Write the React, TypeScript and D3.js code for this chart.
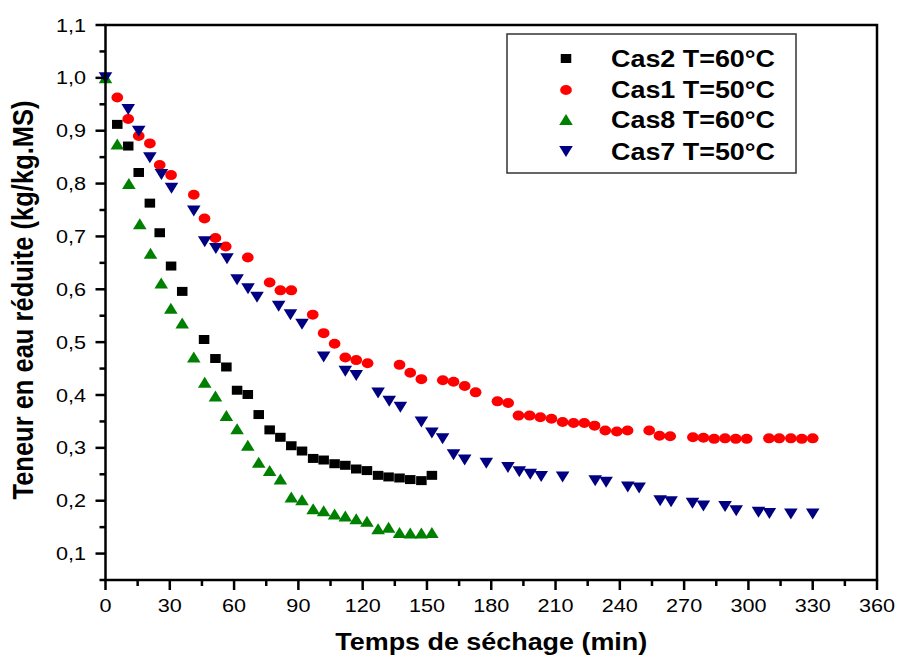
import React from "react";
import * as d3 from "d3";

// Drying curves: reduced moisture content vs drying time
const cas2Time = [5.5, 10.6, 15.5, 20.7, 25.3, 30.6, 35.8, 46.0, 51.3, 56.4, 61.4, 66.4, 71.5, 76.6, 81.6, 86.7, 91.7, 96.9, 101.8, 106.9, 111.9, 117.0, 122.0, 127.2, 132.1, 137.2, 142.2, 147.4, 152.3];
const cas2Teneur = [0.912, 0.871, 0.821, 0.763, 0.707, 0.644, 0.596, 0.505, 0.469, 0.453, 0.409, 0.401, 0.363, 0.334, 0.320, 0.304, 0.294, 0.280, 0.277, 0.270, 0.267, 0.260, 0.257, 0.248, 0.245, 0.243, 0.240, 0.238, 0.248];

const cas1Time = [5.5, 10.6, 15.5, 20.7, 25.3, 30.6, 41.2, 46.2, 51.3, 56.1, 66.4, 76.6, 81.6, 86.7, 96.7, 101.8, 106.9, 111.9, 117.0, 122.3, 137.2, 142.2, 147.4, 157.4, 162.4, 167.6, 172.7, 182.9, 187.9, 192.7, 197.9, 202.9, 208.1, 213.3, 218.4, 223.4, 228.2, 233.2, 238.6, 243.6, 253.7, 258.5, 263.5, 274.1, 279.0, 284.0, 289.1, 294.1, 299.2, 309.6, 314.4, 319.8, 324.9, 330.0];
const cas1Teneur = [0.963, 0.922, 0.890, 0.876, 0.835, 0.816, 0.779, 0.734, 0.697, 0.681, 0.660, 0.613, 0.598, 0.598, 0.552, 0.517, 0.497, 0.471, 0.466, 0.460, 0.457, 0.442, 0.430, 0.428, 0.425, 0.417, 0.405, 0.388, 0.385, 0.361, 0.361, 0.358, 0.355, 0.349, 0.347, 0.347, 0.342, 0.333, 0.331, 0.333, 0.333, 0.323, 0.322, 0.320, 0.319, 0.317, 0.318, 0.317, 0.317, 0.318, 0.318, 0.318, 0.317, 0.318];

const cas8Time = [0, 5.5, 10.9, 16.0, 21.0, 26.0, 30.5, 35.8, 41.2, 46.3, 51.3, 56.4, 61.4, 66.4, 71.5, 76.6, 81.6, 86.7, 91.7, 96.9, 101.8, 106.9, 111.9, 117.0, 122.0, 127.2, 132.1, 137.2, 142.2, 147.4, 152.3];
const cas8Teneur = [1.0, 0.875, 0.800, 0.724, 0.668, 0.612, 0.564, 0.536, 0.472, 0.424, 0.398, 0.361, 0.336, 0.305, 0.273, 0.257, 0.241, 0.207, 0.202, 0.185, 0.181, 0.175, 0.171, 0.166, 0.161, 0.147, 0.150, 0.140, 0.139, 0.139, 0.140];

const cas7Time = [0, 10.6, 15.5, 20.7, 26.1, 30.8, 41.2, 46.3, 51.5, 56.7, 61.4, 66.5, 70.7, 80.8, 86.3, 91.7, 101.8, 111.9, 117.0, 127.2, 132.4, 137.6, 147.4, 152.3, 157.3, 162.4, 167.6, 177.7, 187.8, 193.1, 198.2, 203.3, 213.3, 228.5, 233.6, 243.7, 249.0, 258.8, 263.9, 273.9, 279.0, 289.1, 294.3, 304.7, 309.8, 319.8, 330.0];
const cas7Teneur = [1.0, 0.940, 0.899, 0.849, 0.817, 0.791, 0.748, 0.690, 0.677, 0.658, 0.618, 0.601, 0.585, 0.568, 0.552, 0.534, 0.472, 0.445, 0.437, 0.404, 0.388, 0.377, 0.349, 0.328, 0.317, 0.287, 0.277, 0.271, 0.263, 0.255, 0.250, 0.246, 0.245, 0.238, 0.235, 0.226, 0.224, 0.200, 0.198, 0.195, 0.190, 0.189, 0.181, 0.178, 0.176, 0.175, 0.175];

const seriesLabels = ["Cas2 T=60°C", "Cas1 T=50°C", "Cas8 T=60°C", "Cas7 T=50°C"];
const seriesColors = ["#000000", "#ff0000", "#008000", "#000080"];
const seriesShapes = ["square", "circle", "triangleUp", "triangleDown"];

const xTickValues = d3.range(0, 361, 30);
const xMinorValues = d3.range(15, 360, 30);
const yTickValues = d3.range(1, 12).map((d) => d / 10);
const yMinorValues = d3.range(0, 11).map((d) => 0.05 + d / 10);

const xLabel = "Temps de séchage (min)";
const yLabel = "Teneur en eau réduite (kg/kg.MS)";

const W = 898;
const H = 659;
const SX = 1.17; // horizontal stretch of glyphs and markers
const FONT = "'Liberation Sans', Arial, Helvetica, sans-serif";

const x = d3.scaleLinear().domain([0, 360]).range([105.5, 877]);
const y = d3.scaleLinear().domain([0.05, 1.1]).range([580, 25]);

const fmt = (v: number) => d3.format(".1f")(v).replace(".", ",");

const shapePaths: Record<string, string> = {
  square: "M-4.5,-4.5h9v9h-9z",
  circle: "M-5,0a5,5 0 1,0 10,0a5,5 0 1,0 -10,0z",
  triangleUp: "M0,-5.5L5.8,5.5L-5.8,5.5z",
  triangleDown: "M0,5.5L5.8,-5.5L-5.8,-5.5z",
};

function Marker({ cx, cy, shape, color }: { cx: number; cy: number; shape: string; color: string }) {
  return <path d={shapePaths[shape]} fill={color} transform={`translate(${cx},${cy}) scale(${SX},1)`} />;
}

function SText({ px, py, size, anchor, bold, rotate, children }: any) {
  return (
    <g transform={`translate(${px},${py}) scale(${SX},1)${rotate ? ` rotate(${rotate})` : ""}`}>
      <text x={0} y={0} fontSize={size} fontFamily={FONT} fontWeight={bold ? "bold" : "normal"} textAnchor={anchor} fill="#000">
        {children}
      </text>
    </g>
  );
}

export default function App() {
  const series = [
    { t: cas2Time, v: cas2Teneur },
    { t: cas1Time, v: cas1Teneur },
    { t: cas8Time, v: cas8Teneur },
    { t: cas7Time, v: cas7Teneur },
  ];
  const [x0, x1] = x.range();
  const [yb, yt] = y.range();
  const legendRows = [58.5, 90, 119.5, 151.5];

  return (
    <svg width={W} height={H} style={{ position: "absolute", left: 0, top: 0, display: "block", background: "#fff" }}>
      <rect x={0} y={0} width={W} height={H} fill="#fff" />

      {/* data markers */}
      {series.map((s, i) =>
        s.t.map((t, j) => (
          <Marker key={`${i}-${j}`} cx={x(t)} cy={y(s.v[j])} shape={seriesShapes[i]} color={seriesColors[i]} />
        ))
      )}

      {/* frame */}
      <rect x={x0} y={yt} width={x1 - x0} height={yb - yt} fill="none" stroke="#000" strokeWidth={2.5} />

      {/* x ticks */}
      {xTickValues.map((v) => (
        <g key={`xt${v}`}>
          <line x1={x(v)} x2={x(v)} y1={yb} y2={yb + 10} stroke="#000" strokeWidth={2.5} />
          <SText px={x(v)} py={612} size={18.5} anchor="middle">{String(v)}</SText>
        </g>
      ))}
      {xMinorValues.map((v) => (
        <line key={`xm${v}`} x1={x(v)} x2={x(v)} y1={yb} y2={yb + 6} stroke="#000" strokeWidth={2.5} />
      ))}

      {/* y ticks */}
      {yTickValues.map((v) => (
        <g key={`yt${v}`}>
          <line x1={x0 - 10} x2={x0} y1={y(v)} y2={y(v)} stroke="#000" strokeWidth={2.5} />
          <SText px={86} py={y(v) + 6.5} size={18.5} anchor="end">{fmt(v)}</SText>
        </g>
      ))}
      {yMinorValues.map((v) => (
        <line key={`ym${v}`} x1={x0 - 6} x2={x0} y1={y(v)} y2={y(v)} stroke="#000" strokeWidth={2.5} />
      ))}

      {/* axis titles */}
      <SText px={(x0 + x1) / 2} py={650} size={23} anchor="middle" bold>{xLabel}</SText>
      <SText px={33} py={300} size={25.5} anchor="middle" bold rotate={-90}>{yLabel}</SText>

      {/* legend */}
      <rect x={507} y={34} width={289} height={139} fill="#fff" stroke="#333" strokeWidth={1.5} />
      {seriesLabels.map((lab, i) => (
        <g key={`lg${i}`}>
          <Marker cx={566} cy={legendRows[i]} shape={seriesShapes[i]} color={seriesColors[i]} />
          <SText px={611} py={legendRows[i] + 8} size={23} anchor="start" bold>{lab}</SText>
        </g>
      ))}
    </svg>
  );
}
